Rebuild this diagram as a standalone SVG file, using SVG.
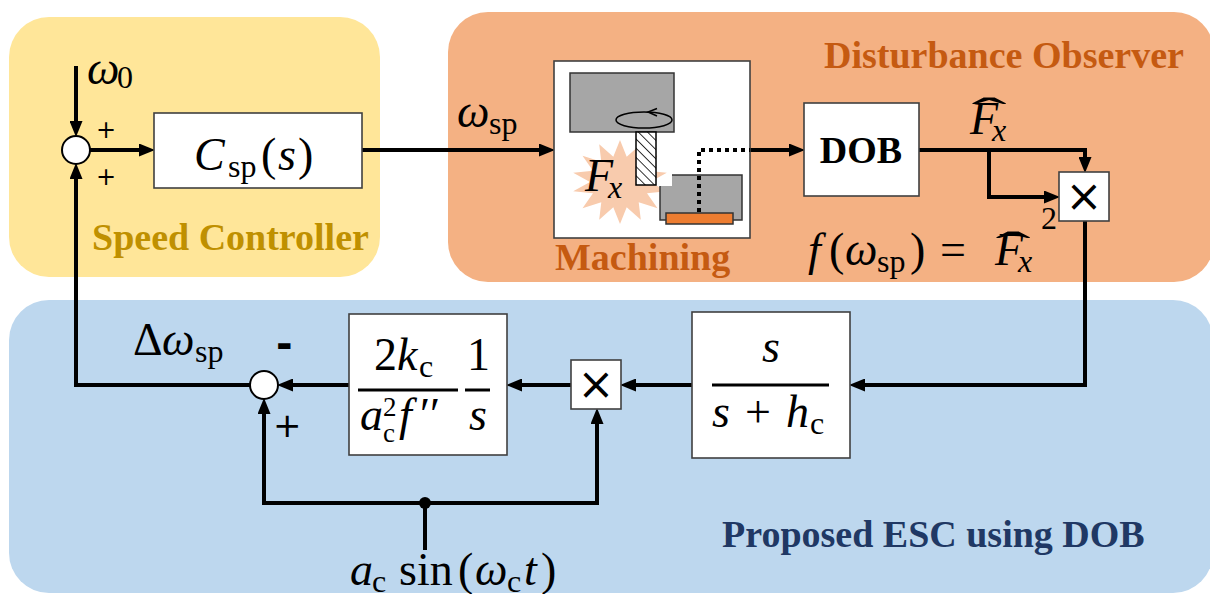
<svg xmlns="http://www.w3.org/2000/svg" width="1210" height="594" viewBox="0 0 1210 594">
  <style>
    .panel-title { font-family: "Liberation Serif", "Times New Roman", serif; font-weight: bold; font-size: 38px; }
    .m { font-family: "Liberation Serif", "DejaVu Serif", serif; font-size: 46px; fill: #000; }
    .i { font-style: italic; }
    .s { font-size: 32px; }
    .ss { font-size: 27px; }
    .hat { font-size: 44px; }
    .sign { font-family: "DejaVu Sans", "Liberation Sans", sans-serif; fill: #000; }
    .box { fill: #fff; stroke: #404040; stroke-width: 1.6; }
    .wire { fill: none; stroke: #000; stroke-width: 4; }
    .arrow { fill: none; stroke: #000; stroke-width: 4; marker-end: url(#head); }
    .bar { stroke: #000; stroke-width: 3; }
    .sum { fill: #fff; stroke: #000; stroke-width: 2; }
    .mul { font-family: "DejaVu Sans", sans-serif; font-size: 44px; text-anchor: middle; }
  </style>
  <defs>
    <marker id="head" markerUnits="userSpaceOnUse" markerWidth="16" markerHeight="13" refX="7" refY="6.5" orient="auto">
      <path d="M0,0 L16,6.5 L0,13 Z" fill="#000"/>
    </marker>
    <pattern id="hatch" patternUnits="userSpaceOnUse" width="6.5" height="6.5" patternTransform="rotate(-45)">
      <rect width="6.5" height="6.5" fill="#fff"/>
      <line x1="0" y1="0" x2="0" y2="6.5" stroke="#000" stroke-width="1.6"/>
    </pattern>
  </defs>

  <!-- background regions -->
  <g id="regions">
    <rect x="9" y="17" width="371" height="260" rx="40" fill="#FFE699"/>
    <rect x="448" y="12" width="766" height="270" rx="40" fill="#F4B183"/>
    <rect x="9" y="300" width="1204" height="293" rx="40" fill="#BDD7EE"/>
    <text class="panel-title" x="92" y="250" fill="#BF9000">Speed Controller</text>
    <text class="panel-title" x="824" y="68" fill="#C55A11">Disturbance Observer</text>
    <text class="panel-title" x="722" y="547" fill="#203864">Proposed ESC using DOB</text>
  </g>

  <!-- connectors -->
  <g id="connectors">
    <path class="arrow" d="M76,66 V128"/>
    <path class="arrow" d="M90,150 H146"/>
    <path class="arrow" d="M362,150 H546"/>
    <path class="arrow" d="M750,150 H796"/>
    <path class="arrow" d="M919,150 H1085 V164"/>
    <path class="arrow" d="M989,150 V197 H1051"/>
    <path class="arrow" d="M1085,221 V385 H858"/>
    <path class="arrow" d="M692,385 H629"/>
    <path class="arrow" d="M571,385 H515"/>
    <path class="arrow" d="M349,385 H286"/>
    <path class="arrow" d="M250,385 H76 V172"/>
    <path class="wire" d="M425,550 V503"/>
    <path class="arrow" d="M425,503 H264 V407"/>
    <path class="arrow" d="M425,503 H597 V417"/>
    <circle cx="425" cy="503" r="6" fill="#000"/>
  </g>

  <!-- speed reference input -->
  <g id="omega0">
    <text class="m i" x="87" y="84">ω</text>
    <text class="m s" x="117" y="88">0</text>
  </g>

  <g id="sum1">
    <circle class="sum" cx="76" cy="150" r="14"/>
    <text class="sign" x="96" y="138" font-size="24">+</text>
    <text class="sign" x="96" y="185" font-size="24">+</text>
  </g>

  <g id="csp">
    <rect class="box" x="154" y="113" width="208" height="75"/>
    <text class="m i" x="194" y="170">C</text>
    <text class="m s" x="228" y="177">sp</text>
    <text class="m" x="261" y="170">(</text>
    <text class="m i" x="278" y="170">s</text>
    <text class="m" x="298" y="170">)</text>
  </g>

  <g id="omega-sp">
    <text class="m i" x="457" y="127">ω</text>
    <text class="m s" x="489" y="134">sp</text>
  </g>

  <!-- machining process sketch -->
  <g id="machining">
    <rect class="box" x="554" y="61" width="196" height="177"/>
    <polygon fill="#F8CBAD" points="620,140 626.7,156.7 640.8,144.2 638.7,161.7 657.5,155.8 647,170.7 666.8,172.7 650,182 666.8,191.3 647,193.3 657.5,208.2 638.7,202.3 640.8,219.8 626.7,207.3 620,224 613.3,207.3 599.2,219.8 601.3,202.3 582.5,208.2 593,193.3 573.2,191.3 590,182 573.2,172.7 593,170.7 582.5,155.8 601.3,161.7 599.2,144.2 613.3,156.7"/>
    <rect x="570" y="73" width="104" height="59" fill="#A6A6A6" stroke="#333" stroke-width="1.5"/>
    <ellipse cx="644" cy="120" rx="28" ry="8" fill="none" stroke="#000" stroke-width="1.5"/>
    <path d="M657,108.5 L648,112 L657,116" fill="none" stroke="#000" stroke-width="1.5"/>
    <rect x="636" y="132" width="20" height="53" fill="url(#hatch)" stroke="#000" stroke-width="1.5"/>
    <path d="M672,175 H742 V220 H660 V186 H672 Z" fill="#A6A6A6"/>
    <path d="M672,175 H742 V220 H660 V186" fill="none" stroke="#333" stroke-width="1.5"/>
    <rect x="666" y="213" width="67" height="11" fill="#ED7D31" stroke="#333" stroke-width="1.5"/>
    <path d="M699,212 V150 H750" fill="none" stroke="#000" stroke-width="4" stroke-dasharray="4 4"/>
    <text class="m i" x="585" y="191">F</text>
    <text class="m i s" x="608" y="198">x</text>
    <text class="panel-title" x="555" y="270" fill="#C55A11">Machining</text>
  </g>

  <g id="dob">
    <rect class="box" x="804" y="103" width="115" height="93"/>
    <text class="panel-title" x="861" y="163" text-anchor="middle" fill="#000">DOB</text>
  </g>

  <g id="fx-hat">
    <text class="m hat" transform="translate(989,128) scale(2.4,1)" text-anchor="middle">ˆ</text>
    <text class="m i" x="970" y="134">F</text>
    <text class="m i s" x="992" y="141">x</text>
  </g>

  <g id="square">
    <rect class="box" x="1059" y="172" width="50" height="49"/>
    <text class="mul" x="1084" y="211">×</text>
  </g>

  <g id="cost-label">
    <text class="m i" x="808" y="265">f</text>
    <text class="m" x="829" y="265">(</text>
    <text class="m i" x="845" y="265">ω</text>
    <text class="m s" x="877" y="272">sp</text>
    <text class="m" x="910" y="265">)</text>
    <text class="m" x="940" y="265">=</text>
    <text class="m hat" transform="translate(1013,262) scale(2.4,1)" text-anchor="middle">ˆ</text>
    <text class="m i" x="995" y="265">F</text>
    <text class="m i s" x="1018" y="272">x</text>
    <text class="m s" x="1041" y="229">2</text>
  </g>

  <g id="hpf">
    <rect class="box" x="692" y="312" width="158" height="146"/>
    <text class="m i" x="762" y="362">s</text>
    <line class="bar" x1="712" y1="385" x2="829" y2="385"/>
    <text class="m i" x="712" y="427">s</text>
    <text class="m" x="745" y="427">+</text>
    <text class="m i" x="786" y="427">h</text>
    <text class="m s" x="810" y="434">c</text>
  </g>

  <g id="demod">
    <rect class="box" x="571" y="360" width="50" height="49"/>
    <text class="mul" x="596" y="399">×</text>
  </g>

  <g id="integrator">
    <rect class="box" x="349" y="314" width="158" height="141"/>
    <text class="m" x="374" y="370">2</text>
    <text class="m i" x="397" y="370">k</text>
    <text class="m s" x="419" y="377">c</text>
    <line class="bar" x1="358" y1="390" x2="458" y2="390"/>
    <text class="m i" x="360" y="430">a</text>
    <text class="m ss" x="383" y="416">2</text>
    <text class="m ss" x="383" y="442">c</text>
    <text class="m i" x="399" y="430">f</text>
    <text class="m" x="420" y="430">′′</text>
    <text class="m" x="467" y="370">1</text>
    <line class="bar" x1="465" y1="390" x2="490" y2="390"/>
    <text class="m i" x="469" y="430">s</text>
  </g>

  <g id="sum2">
    <circle class="sum" cx="264" cy="385" r="14"/>
    <text class="sign" x="276" y="358" font-size="40" font-weight="bold">-</text>
    <text class="sign" x="273" y="437" font-size="34">+</text>
    <text class="m" x="133" y="355">Δ</text>
    <text class="m i" x="162" y="355">ω</text>
    <text class="m s" x="195" y="362">sp</text>
  </g>

  <g id="dither">
    <text class="m i" x="350" y="585">a</text>
    <text class="m s" x="372" y="592">c</text>
    <text class="m" x="399" y="585">sin</text>
    <text class="m" x="458" y="585">(</text>
    <text class="m i" x="475" y="585">ω</text>
    <text class="m s" x="507" y="592">c</text>
    <text class="m i" x="524" y="585">t</text>
    <text class="m" x="541" y="585">)</text>
  </g>
</svg>
